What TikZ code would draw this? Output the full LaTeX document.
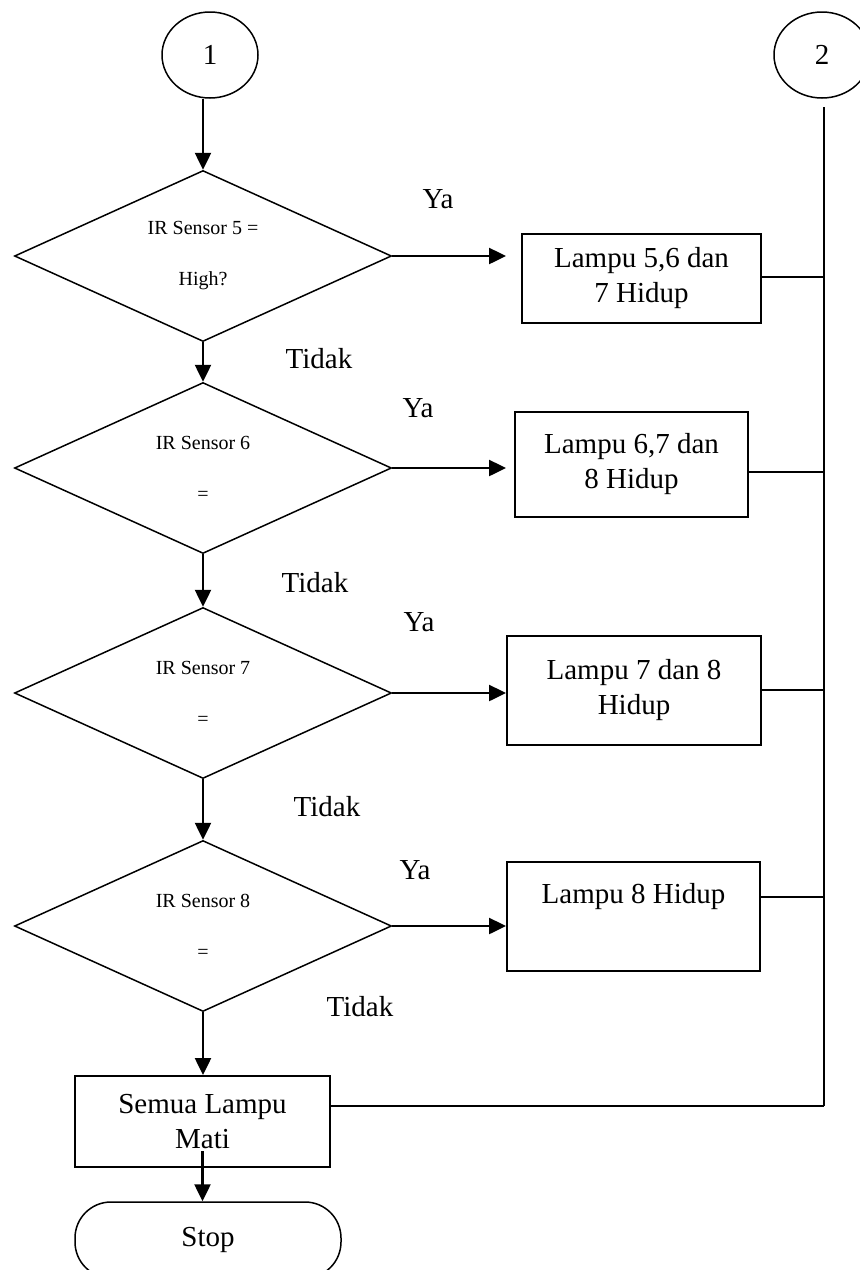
\documentclass[tikz,border=0pt]{standalone}
\usepackage{fontspec}
\setmainfont{Liberation Serif}
\usetikzlibrary{shapes.geometric, arrows.meta, positioning}

\begin{document}
\begin{tikzpicture}[x=1pt, y=-1pt,
    garis/.style={line width=1.6pt},
    panah/.style={line width=2.5pt, -{Triangle[length=17pt, width=16pt]}},
    konektor/.style={draw, ellipse, line width=1.5pt, minimum width=96pt, minimum height=86pt, inner sep=0pt, font=\fontsize{29}{35}\selectfont},
    keputusan/.style={draw, diamond, aspect=2.2, line width=1.5pt, minimum width=377pt, minimum height=171pt, inner sep=0pt, align=center, font=\fontsize{20}{51}\selectfont},
    proses/.style={draw, rectangle, line width=2pt, inner sep=0pt, align=center, font=\fontsize{29}{35}\selectfont},
    terminal/.style={draw, rectangle, rounded corners=36pt, line width=1.5pt, minimum width=266pt, minimum height=76pt, font=\fontsize{29}{35}\selectfont},
    teks/.style={inner sep=0pt, font=\fontsize{29}{35}\selectfont}]
    \useasboundingbox (0,0) rectangle (860,1270);

    % Konektor halaman
    \node[konektor] (c1) at (210,55) {1};
    \node[konektor] (c2) at (822,55) {2};

    % Keputusan sensor
    \node[keputusan] (d1) at (203,256) {IR Sensor 5 =\\High?};
    \node[keputusan] (d2) at (203,468) {IR Sensor 6\\=};
    \node[keputusan] (d3) at (203,693) {IR Sensor 7\\=};
    \node[keputusan] (d4) at (203,926) {IR Sensor 8\\=};

    % Proses lampu
    \node[proses, minimum width=239pt, minimum height=89pt] (b1) at (641.5,278.5) {Lampu 5,6 dan\\7 Hidup};
    \node[proses, minimum width=233pt, minimum height=105pt] (b2) at (631.5,464.5) {Lampu 6,7 dan\\8 Hidup};
    \node[proses, minimum width=254pt, minimum height=109pt] (b3) at (634,690.5) {Lampu 7 dan 8\\Hidup};
    \node[proses, minimum width=253pt, minimum height=109pt] (b4) at (633.5,916.5) {Lampu 8 Hidup\\[12pt]~};
    \node[proses, minimum width=255pt, minimum height=91pt] (b5) at (202.5,1121.5) {Semua Lampu\\Mati};
    \node[terminal] (stop) at (208,1240) {Stop};

    % Alur utama
    \draw[panah] (c1.south -| d1.north) -- (d1.north);
    \draw[panah] (d1.south) -- (d2.north);
    \draw[panah] (d2.south) -- (d3.north);
    \draw[panah] (d3.south) -- (d4.north);
    \draw[panah] (d4.south) -- (d4.south |- b5.north);
    \draw[panah] ([yshift=17pt]b5.south) -- (b5.south |- stop.north);

    % Cabang Ya
    \draw[panah, shorten >=15pt] (d1.east) -- (d1.east -| b1.west);
    \draw[panah, shorten >=8pt] (d2.east) -- (d2.east -| b2.west);
    \draw[panah] (d3.east) -- (d3.east -| b3.west);
    \draw[panah] (d4.east) -- (d4.east -| b4.west);

    % Jalur ke konektor 2
    \coordinate (atas) at (824,107);
    \coordinate (j1) at (824,277);
    \coordinate (j2) at (824,472);
    \coordinate (j3) at (824,690);
    \coordinate (j4) at (824,897);
    \coordinate (j5) at (824,1106);
    \draw[garis] (atas) -- (j5);
    \draw[garis] (b1.east |- j1) -- (j1);
    \draw[garis] (b2.east |- j2) -- (j2);
    \draw[garis] (b3.east |- j3) -- (j3);
    \draw[garis] (b4.east |- j4) -- (j4);
    \draw[garis, line width=2.2pt] (b5.east |- j5) -- (j5);

    % Label cabang
    \node[teks] (ya1) at (438,199) {Ya};
    \node[teks] (ya2) at (418,408) {Ya};
    \node[teks] (ya3) at (419,622) {Ya};
    \node[teks] (ya4) at (415,870) {Ya};
    \node[teks] (td1) at (319,359) {Tidak};
    \node[teks] (td2) at (315,583) {Tidak};
    \node[teks] (td3) at (327,807) {Tidak};
    \node[teks] (td4) at (360,1007) {Tidak};
\end{tikzpicture}
\end{document}
